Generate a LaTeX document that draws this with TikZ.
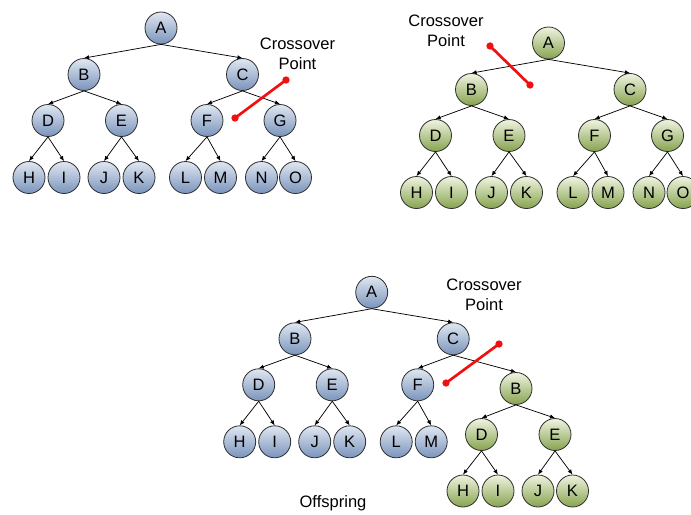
\documentclass[tikz,border=0pt]{standalone}
\usepackage{fontspec}
\setmainfont{Liberation Sans}
\usetikzlibrary{arrows.meta}

\definecolor{blueTop}{HTML}{E0E7F1}
\definecolor{blueBot}{HTML}{7A94BC}
\definecolor{greenTop}{HTML}{EFF4E0}
\definecolor{greenBot}{HTML}{87A34F}
\definecolor{rimGray}{HTML}{2E2E2E}
\definecolor{cutRed}{HTML}{F01010}

\begin{document}
\begin{tikzpicture}[x=0.75pt, y=-0.75pt,
		font=\fontsize{12.4}{15}\selectfont,
		gene/.style={circle, draw=rimGray, line width=0.6pt, minimum size=24pt, inner sep=0pt},
		blue/.style={gene, top color=blueTop, bottom color=blueBot},
		green/.style={gene, top color=greenTop, bottom color=greenBot},
		edge/.style={-{Latex[length=3.8pt,width=3.2pt]}, black, line width=0.55pt},
		cut/.style={cutRed, line width=2pt},
		dot/.style={circle, fill=cutRed, inner sep=0pt, minimum size=5.5pt}]
			\useasboundingbox (0,0) rectangle (691,514);
			
			% first parent
			\node[blue] (lA) at (161, 28) {A};
			\node[blue] (lB) at (84, 74.5) {B};
			\node[blue] (lC) at (242.5, 74.5) {C};
			\node[blue] (lD) at (48, 120.5) {D};
			\node[blue] (lE) at (121.5, 120.5) {E};
			\node[blue] (lF) at (207, 120.5) {F};
			\node[blue] (lG) at (280, 120.5) {G};
			\node[blue] (lH) at (29, 177.5) {H};
			\node[blue] (lI) at (64, 177.5) {I};
			\node[blue] (lJ) at (104, 177.5) {J};
			\node[blue] (lK) at (139, 177.5) {K};
			\node[blue] (lL) at (185.5, 177.5) {L};
			\node[blue] (lM) at (220.5, 177.5) {M};
			\node[blue] (lN) at (261.5, 177.5) {N};
			\node[blue] (lO) at (295.5, 177.5) {O};
			\draw [edge] (lA.south) -- (lB.north);
			\draw [edge] (lA.south) -- (lC.north);
			\draw [edge] (lB.south) -- (lD.north);
			\draw [edge] (lB.south) -- (lE.north);
			\draw [edge] (lC.south) -- (lF.north);
			\draw [edge] (lC.south) -- (lG.north);
			\draw [edge] (lD.south) -- (lH.north);
			\draw [edge] (lD.south) -- (lI.north);
			\draw [edge] (lE.south) -- (lJ.north);
			\draw [edge] (lE.south) -- (lK.north);
			\draw [edge] (lF.south) -- (lL.north);
			\draw [edge] (lF.south) -- (lM.north);
			\draw [edge] (lG.south) -- (lN.north);
			\draw [edge] (lG.south) -- (lO.north);
			
			\node[align=center] (lText) at (297.5, 54) {Crossover\\Point};
			\coordinate (lCut1) at (286, 80);
			\coordinate (lCut2) at (235, 118);
			\draw [cut] (lCut1) -- (lCut2);
			\node[dot] at (lCut1) {};
			\node[dot] at (lCut2) {};
			
			% second parent
			\node[green] (rA) at (548.5, 43) {A};
			\node[green] (rB) at (471.5, 89.5) {B};
			\node[green] (rC) at (630, 89.5) {C};
			\node[green] (rD) at (435.5, 135.5) {D};
			\node[green] (rE) at (509, 135.5) {E};
			\node[green] (rF) at (594.5, 135.5) {F};
			\node[green] (rG) at (667.5, 135.5) {G};
			\node[green] (rH) at (416.5, 192.5) {H};
			\node[green] (rI) at (451.5, 192.5) {I};
			\node[green] (rJ) at (491.5, 192.5) {J};
			\node[green] (rK) at (526.5, 192.5) {K};
			\node[green] (rL) at (573, 192.5) {L};
			\node[green] (rM) at (608, 192.5) {M};
			\node[green] (rN) at (649, 192.5) {N};
			\node[green] (rO) at (683, 192.5) {O};
			\draw [edge] (rA.south) -- (rB.north);
			\draw [edge] (rA.south) -- (rC.north);
			\draw [edge] (rB.south) -- (rD.north);
			\draw [edge] (rB.south) -- (rE.north);
			\draw [edge] (rC.south) -- (rF.north);
			\draw [edge] (rC.south) -- (rG.north);
			\draw [edge] (rD.south) -- (rH.north);
			\draw [edge] (rD.south) -- (rI.north);
			\draw [edge] (rE.south) -- (rJ.north);
			\draw [edge] (rE.south) -- (rK.north);
			\draw [edge] (rF.south) -- (rL.north);
			\draw [edge] (rF.south) -- (rM.north);
			\draw [edge] (rG.south) -- (rN.north);
			\draw [edge] (rG.south) -- (rO.north);
			
			\node[align=center] (rText) at (446, 30.5) {Crossover\\Point};
			\coordinate (rCut1) at (490, 46);
			\coordinate (rCut2) at (530, 85);
			\draw [cut] (rCut1) -- (rCut2);
			\node[dot] at (rCut1) {};
			\node[dot] at (rCut2) {};
			
			% offspring: left part of the first parent, subtree B of the second
			\node[blue] (oA) at (371.7, 292.3) {A};
			\node[blue] (oB) at (295, 338.8) {B};
			\node[blue] (oC) at (453.2, 338.8) {C};
			\node[blue] (oD) at (258.7, 384.8) {D};
			\node[blue] (oE) at (332.2, 384.8) {E};
			\node[blue] (oF) at (417.7, 384.8) {F};
			\node[blue] (oH) at (239.7, 441.8) {H};
			\node[blue] (oI) at (274.7, 441.8) {I};
			\node[blue] (oJ) at (314.7, 441.8) {J};
			\node[blue] (oK) at (349.7, 441.8) {K};
			\node[blue] (oL) at (396.2, 441.8) {L};
			\node[blue] (oM) at (431.2, 441.8) {M};
			\node[green] (ogB) at (516, 388.5) {B};
			\node[green] (ogD) at (481.5, 434.5) {D};
			\node[green] (ogE) at (555, 434.5) {E};
			\node[green] (ogH) at (463, 491) {H};
			\node[green] (ogI) at (498, 491) {I};
			\node[green] (ogJ) at (538, 491) {J};
			\node[green] (ogK) at (572.5, 491) {K};
			\draw [edge] (oA.south) -- (oB.north);
			\draw [edge] (oA.south) -- (oC.north);
			\draw [edge] (oB.south) -- (oD.north);
			\draw [edge] (oB.south) -- (oE.north);
			\draw [edge] (oC.south) -- (oF.north);
			\draw [edge] (oC.south) -- (ogB.north);
			\draw [edge] (oD.south) -- (oH.north);
			\draw [edge] (oD.south) -- (oI.north);
			\draw [edge] (oE.south) -- (oJ.north);
			\draw [edge] (oE.south) -- (oK.north);
			\draw [edge] (oF.south) -- (oL.north);
			\draw [edge] (oF.south) -- (oM.north);
			\draw [edge] (ogB.south) -- (ogD.north);
			\draw [edge] (ogB.south) -- (ogE.north);
			\draw [edge] (ogD.south) -- (ogH.north);
			\draw [edge] (ogD.south) -- (ogI.north);
			\draw [edge] (ogE.south) -- (ogJ.north);
			\draw [edge] (ogE.south) -- (ogK.north);
			
			\node[align=center] (oText) at (484, 294.5) {Crossover\\Point};
			\coordinate (oCut1) at (499, 344);
			\coordinate (oCut2) at (446, 383);
			\draw [cut] (oCut1) -- (oCut2);
			\node[dot] at (oCut1) {};
			\node[dot] at (oCut2) {};
			
			\node (offspring) at (333, 503) {Offspring};
			
		\end{tikzpicture}
\end{document}
